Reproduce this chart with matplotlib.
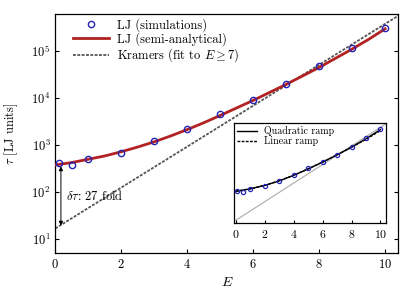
import matplotlib
matplotlib.use("Agg")
import matplotlib.pyplot as plt
import matplotlib.ticker as mticker

plt.rcParams["font.family"] = ["cmr10", "DejaVu Serif"]
plt.rcParams["mathtext.fontset"] = "cm"
plt.rcParams["axes.formatter.use_mathtext"] = True
plt.rcParams["axes.unicode_minus"] = False

# ── data ─────────────────────────────────────────────────────────────────────
E_sim = [0.1, 0.5, 1, 2, 3, 4, 5, 6, 7, 8, 9, 10]
tau_sim = [408, 375, 512, 685, 1217, 2160, 4640, 9200, 19500, 47000, 115000, 300000]

E_semi = [0, 0.5, 1, 1.5, 2, 2.5, 3, 3.5, 4, 4.5, 5, 5.5, 6, 6.5, 7, 7.5, 8,
          8.5, 9, 9.5, 10]
tau_semi = [380, 427, 501, 589, 724, 912, 1175, 1567, 2138, 2985, 4266, 6166,
            8913, 13180, 19500, 29500, 44670, 70000, 109600, 176000, 295000]

E_kram = [0, 10.4]
tau_kram = [17, 560000]

# inset: ramp shapes
E_ramp = [0, 1, 2, 3, 4, 5, 6, 7, 8, 9, 10]
tau_quad = [380, 501, 724, 1175, 2138, 4266, 8913, 19500, 44670, 109600, 295000]
tau_lin = [385, 505, 730, 1190, 2160, 4300, 8950, 19300, 43500, 104000, 265000]

arrow_E = 0.17
arrow_top = 355
arrow_bot = 19.5

# ── figure ───────────────────────────────────────────────────────────────────
fig = plt.figure(figsize=(4.2, 2.94), dpi=100)
ax = fig.add_axes([0.1317, 0.1405, 0.8166, 0.8109])

BLUE = "#2323b4"
RED = "#b22222"

ax.plot(E_sim, tau_sim, ls="none", marker="o", ms=4.5, mfc="none", mec=BLUE,
        mew=1.0, label="LJ (simulations)", zorder=4)
ax.plot(E_semi, tau_semi, color=RED, lw=2.0, label="LJ (semi-analytical)",
        zorder=3)
ax.plot(E_kram, tau_kram, color="#555555", lw=1.3, ls=(0, (1.6, 0.8)),
        label=r"Kramers (fit to $E \geq 7$)", zorder=2)

ax.annotate("", xy=(arrow_E, arrow_bot), xytext=(arrow_E, arrow_top),
            arrowprops=dict(arrowstyle="<|-|>", color="k", lw=0.7,
                            mutation_scale=6, shrinkA=0, shrinkB=0))
ax.text(0.33, 83, r"$\delta\tau$: 27 fold", fontsize=9, va="center",
        ha="left")

ax.set_yscale("log")
ax.set_xlim(0, 10.4)
ax.set_ylim(5.2, 6e5)
ax.set_xticks([0, 2, 4, 6, 8, 10])
ax.yaxis.set_major_locator(mticker.FixedLocator([1e1, 1e2, 1e3, 1e4, 1e5]))
ax.yaxis.set_minor_locator(mticker.NullLocator())
ax.tick_params(direction="in", length=3, width=0.8, labelsize=9,
               right=True, top=False)
ax.set_xlabel(r"$E$", fontsize=10, labelpad=4)
ax.set_ylabel(r"$\tau$ [LJ units]", fontsize=9, labelpad=8)
for s in ax.spines.values():
    s.set_linewidth(0.9)

ax.legend(loc="upper left", bbox_to_anchor=(0.045, 0.995), frameon=False,
          fontsize=9, borderaxespad=0, borderpad=0.2, handlelength=2.9,
          handletextpad=0.6, labelspacing=0.05)

# ── inset ────────────────────────────────────────────────────────────────────
ins = fig.add_axes([0.558, 0.2405, 0.360, 0.340])
ins.plot(E_kram, tau_kram, color="#aaaaaa", lw=0.8, zorder=1)
ins.plot(E_ramp, tau_quad, color="k", lw=1.0, label="Quadratic ramp", zorder=2)
ins.plot(E_ramp, tau_lin, color="k", lw=1.0, ls=(0, (2, 1)),
         label="Linear ramp", zorder=3)
ins.plot(E_sim, tau_sim, ls="none", marker="o", ms=3, mfc="none", mec=BLUE,
         mew=0.9, zorder=4)
ins.set_yscale("log")
ins.set_xlim(-0.1, 10.35)
ins.set_ylim(10 ** 1.09, 10 ** 5.76)
ins.set_xticks([0, 2, 4, 6, 8, 10])
ins.yaxis.set_major_locator(mticker.NullLocator())
ins.yaxis.set_minor_locator(mticker.NullLocator())
ins.tick_params(direction="in", length=2.5, width=0.8, labelsize=8.5,
                top=False)
for s in ins.spines.values():
    s.set_linewidth(0.9)
ins.legend(loc="upper left", frameon=False, fontsize=7.2, borderaxespad=0.15,
           borderpad=0.15, handlelength=2.0, handletextpad=0.7,
           labelspacing=0.0)

fig.savefig("out.png", dpi=100)
